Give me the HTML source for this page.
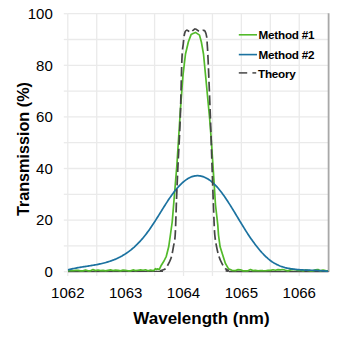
<!DOCTYPE html>
<html><head><meta charset="utf-8"><style>
html,body{margin:0;padding:0;background:#fff;width:342px;height:338px;overflow:hidden;}
svg{display:block;font-family:"Liberation Sans", sans-serif;}
</style></head><body>
<svg width="342" height="338" viewBox="0 0 342 338">
<rect width="342" height="338" fill="#fff"/>
<defs><filter id="sb" x="-5%" y="-5%" width="110%" height="110%"><feGaussianBlur stdDeviation="0.35"/></filter></defs>
<g filter="url(#sb)">
<line x1="67.80" y1="271.70" x2="328.60" y2="271.70" stroke="#EAEAEA" stroke-width="1.3"/>
<line x1="67.80" y1="245.90" x2="328.60" y2="245.90" stroke="#EAEAEA" stroke-width="1.3"/>
<line x1="67.80" y1="220.10" x2="328.60" y2="220.10" stroke="#EAEAEA" stroke-width="1.3"/>
<line x1="67.80" y1="194.30" x2="328.60" y2="194.30" stroke="#EAEAEA" stroke-width="1.3"/>
<line x1="67.80" y1="168.50" x2="328.60" y2="168.50" stroke="#EAEAEA" stroke-width="1.3"/>
<line x1="67.80" y1="142.70" x2="328.60" y2="142.70" stroke="#EAEAEA" stroke-width="1.3"/>
<line x1="67.80" y1="116.90" x2="328.60" y2="116.90" stroke="#EAEAEA" stroke-width="1.3"/>
<line x1="67.80" y1="91.10" x2="328.60" y2="91.10" stroke="#EAEAEA" stroke-width="1.3"/>
<line x1="67.80" y1="65.30" x2="328.60" y2="65.30" stroke="#EAEAEA" stroke-width="1.3"/>
<line x1="67.80" y1="39.50" x2="328.60" y2="39.50" stroke="#EAEAEA" stroke-width="1.3"/>
<line x1="67.80" y1="13.70" x2="328.60" y2="13.70" stroke="#EAEAEA" stroke-width="1.3"/>
<line x1="67.80" y1="13.7" x2="67.80" y2="271.7" stroke="#EAEAEA" stroke-width="1.3"/>
<line x1="96.73" y1="13.7" x2="96.73" y2="271.7" stroke="#EAEAEA" stroke-width="1.3"/>
<line x1="125.66" y1="13.7" x2="125.66" y2="271.7" stroke="#EAEAEA" stroke-width="1.3"/>
<line x1="154.59" y1="13.7" x2="154.59" y2="271.7" stroke="#EAEAEA" stroke-width="1.3"/>
<line x1="183.52" y1="13.7" x2="183.52" y2="271.7" stroke="#EAEAEA" stroke-width="1.3"/>
<line x1="212.45" y1="13.7" x2="212.45" y2="271.7" stroke="#EAEAEA" stroke-width="1.3"/>
<line x1="241.38" y1="13.7" x2="241.38" y2="271.7" stroke="#EAEAEA" stroke-width="1.3"/>
<line x1="270.31" y1="13.7" x2="270.31" y2="271.7" stroke="#EAEAEA" stroke-width="1.3"/>
<line x1="299.24" y1="13.7" x2="299.24" y2="271.7" stroke="#EAEAEA" stroke-width="1.3"/>
<line x1="63.8" y1="271.70" x2="67.80" y2="271.70" stroke="#EAEAEA" stroke-width="1.3"/>
<line x1="63.8" y1="245.90" x2="67.80" y2="245.90" stroke="#EAEAEA" stroke-width="1.3"/>
<line x1="63.8" y1="220.10" x2="67.80" y2="220.10" stroke="#EAEAEA" stroke-width="1.3"/>
<line x1="63.8" y1="194.30" x2="67.80" y2="194.30" stroke="#EAEAEA" stroke-width="1.3"/>
<line x1="63.8" y1="168.50" x2="67.80" y2="168.50" stroke="#EAEAEA" stroke-width="1.3"/>
<line x1="63.8" y1="142.70" x2="67.80" y2="142.70" stroke="#EAEAEA" stroke-width="1.3"/>
<line x1="63.8" y1="116.90" x2="67.80" y2="116.90" stroke="#EAEAEA" stroke-width="1.3"/>
<line x1="63.8" y1="91.10" x2="67.80" y2="91.10" stroke="#EAEAEA" stroke-width="1.3"/>
<line x1="63.8" y1="65.30" x2="67.80" y2="65.30" stroke="#EAEAEA" stroke-width="1.3"/>
<line x1="63.8" y1="39.50" x2="67.80" y2="39.50" stroke="#EAEAEA" stroke-width="1.3"/>
<line x1="63.8" y1="13.70" x2="67.80" y2="13.70" stroke="#EAEAEA" stroke-width="1.3"/>
<line x1="67.80" y1="271.7" x2="67.80" y2="276" stroke="#EAEAEA" stroke-width="1.3"/>
<line x1="96.73" y1="271.7" x2="96.73" y2="276" stroke="#EAEAEA" stroke-width="1.3"/>
<line x1="125.66" y1="271.7" x2="125.66" y2="276" stroke="#EAEAEA" stroke-width="1.3"/>
<line x1="154.59" y1="271.7" x2="154.59" y2="276" stroke="#EAEAEA" stroke-width="1.3"/>
<line x1="183.52" y1="271.7" x2="183.52" y2="276" stroke="#EAEAEA" stroke-width="1.3"/>
<line x1="212.45" y1="271.7" x2="212.45" y2="276" stroke="#EAEAEA" stroke-width="1.3"/>
<line x1="241.38" y1="271.7" x2="241.38" y2="276" stroke="#EAEAEA" stroke-width="1.3"/>
<line x1="270.31" y1="271.7" x2="270.31" y2="276" stroke="#EAEAEA" stroke-width="1.3"/>
<line x1="299.24" y1="271.7" x2="299.24" y2="276" stroke="#EAEAEA" stroke-width="1.3"/>
<line x1="328.60" y1="13.2" x2="328.60" y2="272" stroke="#A8A8A8" stroke-width="1.8"/>
<line x1="68" y1="271.6" x2="163" y2="271.4" stroke="#454545" stroke-width="1.3"/>
<line x1="229" y1="271.5" x2="328.5" y2="271.6" stroke="#454545" stroke-width="1.3"/>
<path d="M68.00,270.83 L70.50,270.51 L73.00,270.72 L75.50,270.43 L78.00,270.39 L80.50,270.89 L83.00,270.90 L85.50,269.99 L88.00,270.81 L90.50,270.83 L93.00,269.61 L95.50,270.61 L98.00,269.99 L100.50,270.61 L103.00,270.37 L105.50,270.87 L108.00,270.38 L110.50,269.92 L113.00,270.54 L115.50,270.19 L118.00,270.31 L120.50,270.89 L123.00,270.15 L125.50,270.45 L128.00,270.78 L130.50,270.90 L133.00,269.93 L135.50,270.61 L138.00,270.23 L140.50,269.90 L143.00,270.24 L145.50,269.80 L148.00,270.70 L150.50,270.07 L153.00,270.64 L154.50,270.00 L155.50,268.60 L156.80,269.50 L157.50,268.80 L158.00,269.00 L159.20,269.60 L161.00,265.80 L164.00,261.00 L166.30,256.30 L168.70,246.80 L170.40,235.00 L172.20,222.00 L176.90,165.00 L180.40,110.00 L183.00,75.00 L185.50,54.00 L188.40,41.70 L191.10,34.60 L193.00,33.60 L195.50,32.40 L199.50,35.10 L201.30,41.70 L203.50,54.00 L206.00,80.00 L209.60,118.00 L211.30,140.00 L212.60,160.00 L213.40,172.00 L215.50,205.00 L217.80,225.00 L218.50,235.00 L220.10,246.80 L223.10,256.30 L225.40,263.40 L228.40,268.70 L232.00,270.30 L235.50,270.60 L238.00,269.67 L240.50,269.82 L243.00,270.89 L245.50,270.87 L248.00,270.83 L250.50,269.59 L253.00,270.63 L255.50,270.35 L258.00,270.77 L260.50,270.54 L263.00,270.69 L265.50,270.73 L268.00,270.42 L270.50,270.42 L273.00,269.76 L275.50,270.25 L278.00,269.69 L280.50,269.87 L283.00,269.53 L285.50,270.27 L288.00,270.86 L290.50,269.86 L293.00,269.60 L295.50,269.75 L298.00,270.45 L300.50,270.19 L303.00,270.84 L305.50,269.93 L308.00,270.44 L310.50,270.79 L313.00,270.89 L315.50,269.88 L318.00,269.53 L320.50,270.89 L323.00,270.00 L325.50,270.66 L328.00,270.87" fill="none" stroke="#52BA2A" stroke-width="1.7" stroke-linejoin="round"/>
<path d="M68.00,269.87 L69.00,269.61 L70.00,269.36 L71.00,269.12 L72.00,268.90 L73.00,268.68 L74.00,268.47 L75.00,268.27 L76.00,268.07 L77.00,267.89 L78.00,267.71 L79.00,267.53 L80.00,267.36 L81.00,267.19 L82.00,267.03 L83.00,266.87 L84.00,266.71 L85.00,266.55 L86.00,266.40 L87.00,266.24 L88.00,266.09 L89.00,265.93 L90.00,265.77 L91.00,265.61 L92.00,265.44 L93.00,265.28 L94.00,265.10 L95.00,264.93 L96.00,264.74 L97.00,264.55 L98.00,264.36 L99.00,264.15 L100.00,263.94 L101.00,263.72 L102.00,263.49 L103.00,263.25 L104.00,263.00 L105.00,262.74 L106.00,262.46 L107.00,262.18 L108.00,261.88 L109.00,261.56 L110.00,261.23 L111.00,260.89 L112.00,260.53 L113.00,260.15 L114.00,259.76 L115.00,259.35 L116.00,258.92 L117.00,258.47 L118.00,258.00 L119.00,257.51 L120.00,257.00 L121.00,256.46 L122.00,255.91 L123.00,255.33 L124.00,254.73 L125.00,254.10 L126.00,253.45 L127.00,252.78 L128.00,252.07 L129.00,251.34 L130.00,250.58 L131.00,249.80 L132.00,248.98 L133.00,248.14 L134.00,247.27 L135.00,246.36 L136.00,245.42 L137.00,244.46 L138.00,243.45 L139.00,242.42 L140.00,241.35 L141.00,240.25 L142.00,239.11 L143.00,237.93 L144.00,236.72 L145.00,235.47 L146.00,234.19 L147.00,232.87 L148.00,231.52 L149.00,230.13 L150.00,228.71 L151.00,227.26 L152.00,225.78 L153.00,224.28 L154.00,222.75 L155.00,221.20 L156.00,219.63 L157.00,218.04 L158.00,216.45 L159.00,214.84 L160.00,213.23 L161.00,211.62 L162.00,210.01 L163.00,208.40 L164.00,206.81 L165.00,205.22 L166.00,203.66 L167.00,202.11 L168.00,200.58 L169.00,199.08 L170.00,197.62 L171.00,196.18 L172.00,194.78 L173.00,193.42 L174.00,192.10 L175.00,190.82 L176.00,189.59 L177.00,188.39 L178.00,187.25 L179.00,186.14 L180.00,185.09 L181.00,184.08 L182.00,183.13 L183.00,182.23 L184.00,181.38 L185.00,180.58 L186.00,179.84 L187.00,179.16 L188.00,178.53 L189.00,177.97 L190.00,177.46 L191.00,177.02 L192.00,176.64 L193.00,176.33 L194.00,176.08 L195.00,175.90 L196.00,175.78 L197.00,175.72 L198.00,175.72 L199.00,175.79 L200.00,175.92 L201.00,176.10 L202.00,176.35 L203.00,176.66 L204.00,177.03 L205.00,177.45 L206.00,177.93 L207.00,178.47 L208.00,179.07 L209.00,179.72 L210.00,180.43 L211.00,181.20 L212.00,182.02 L213.00,182.89 L214.00,183.81 L215.00,184.79 L216.00,185.82 L217.00,186.91 L218.00,188.04 L219.00,189.23 L220.00,190.46 L221.00,191.74 L222.00,193.07 L223.00,194.43 L224.00,195.83 L225.00,197.27 L226.00,198.75 L227.00,200.25 L228.00,201.78 L229.00,203.34 L230.00,204.92 L231.00,206.52 L232.00,208.13 L233.00,209.76 L234.00,211.41 L235.00,213.06 L236.00,214.72 L237.00,216.38 L238.00,218.05 L239.00,219.71 L240.00,221.37 L241.00,223.02 L242.00,224.67 L243.00,226.30 L244.00,227.92 L245.00,229.52 L246.00,231.10 L247.00,232.66 L248.00,234.20 L249.00,235.71 L250.00,237.19 L251.00,238.65 L252.00,240.08 L253.00,241.49 L254.00,242.86 L255.00,244.21 L256.00,245.52 L257.00,246.80 L258.00,248.06 L259.00,249.27 L260.00,250.46 L261.00,251.60 L262.00,252.72 L263.00,253.79 L264.00,254.83 L265.00,255.83 L266.00,256.79 L267.00,257.71 L268.00,258.59 L269.00,259.43 L270.00,260.23 L271.00,260.98 L272.00,261.69 L273.00,262.35 L274.00,262.98 L275.00,263.56 L276.00,264.11 L277.00,264.62 L278.00,265.09 L279.00,265.54 L280.00,265.95 L281.00,266.33 L282.00,266.68 L283.00,267.00 L284.00,267.30 L285.00,267.58 L286.00,267.83 L287.00,268.06 L288.00,268.27 L289.00,268.46 L290.00,268.64 L291.00,268.80 L292.00,268.95 L293.00,269.09 L294.00,269.21 L295.00,269.33 L296.00,269.43 L297.00,269.53 L298.00,269.61 L299.00,269.69 L300.00,269.76 L301.00,269.83 L302.00,269.88 L303.00,269.94 L304.00,269.98 L305.00,270.03 L306.00,270.06 L307.00,270.10 L308.00,270.13 L309.00,270.17 L310.00,270.20 L311.00,270.23 L312.00,270.26 L313.00,270.29 L314.00,270.33 L315.00,270.36 L316.00,270.40 L317.00,270.44 L318.00,270.49 L319.00,270.54 L320.00,270.60 L321.00,270.66 L322.00,270.73 L323.00,270.81 L324.00,270.89 L325.00,270.99 L326.00,271.09 L327.00,271.10 L328.00,271.10" fill="none" stroke="#1B72A0" stroke-width="1.7" stroke-linejoin="round"/>
<defs><clipPath id="pk"><rect x="160" y="0" width="69" height="280"/></clipPath></defs>
<path clip-path="url(#pk)" d="M195.10,28.60 C194.42,29.13 191.92,31.23 191.00,31.80 C190.08,32.37 190.07,32.17 189.60,32.00 C189.13,31.83 188.70,31.10 188.20,30.80 C187.70,30.50 187.10,30.07 186.60,30.20 C186.10,30.33 185.62,30.63 185.20,31.60 C184.78,32.57 184.42,33.98 184.10,36.00 C183.78,38.02 183.67,39.70 183.30,43.70 C182.93,47.70 182.42,47.28 181.90,60.00 C181.38,72.72 180.85,102.50 180.20,120.00 C179.55,137.50 178.62,151.67 178.00,165.00 C177.38,178.33 176.97,188.33 176.50,200.00 C176.03,211.67 175.72,227.20 175.20,235.00 C174.68,242.80 174.00,243.25 173.40,246.80 C172.80,250.35 172.18,253.93 171.60,256.30 C171.02,258.67 170.67,259.30 169.90,261.00 C169.13,262.70 167.70,265.22 167.00,266.50 C166.30,267.78 166.53,268.07 165.70,268.70 C164.87,269.33 163.28,269.90 162.00,270.30 C160.72,270.70 160.00,270.93 158.00,271.10 C156.00,271.27 165.00,271.27 150.00,271.30 C135.00,271.33 81.67,271.30 68.00,271.30" fill="none" stroke="#454545" stroke-width="1.7" stroke-dasharray="9.78 3.80" stroke-dashoffset="6.30" stroke-linejoin="round"/>
<path clip-path="url(#pk)" d="M195.10,28.60 C195.75,29.05 198.02,30.83 199.00,31.30 C199.98,31.77 200.28,31.57 201.00,31.40 C201.72,31.23 202.63,30.33 203.30,30.30 C203.97,30.27 204.45,30.18 205.00,31.20 C205.55,32.22 206.23,34.32 206.60,36.40 C206.97,38.48 206.95,39.77 207.20,43.70 C207.45,47.63 207.58,48.12 208.10,60.00 C208.62,71.88 209.65,97.50 210.30,115.00 C210.95,132.50 211.42,148.33 212.00,165.00 C212.58,181.67 213.33,203.33 213.80,215.00 C214.27,226.67 214.33,229.70 214.80,235.00 C215.27,240.30 215.92,243.25 216.60,246.80 C217.28,250.35 218.02,253.53 218.90,256.30 C219.78,259.07 220.82,261.33 221.90,263.40 C222.98,265.47 224.22,267.50 225.40,268.70 C226.58,269.90 227.40,270.17 229.00,270.60 C230.60,271.03 218.42,271.18 235.00,271.30 C251.58,271.42 312.92,271.30 328.50,271.30" fill="none" stroke="#454545" stroke-width="1.7" stroke-dasharray="9.67 3.80" stroke-dashoffset="4.96" stroke-linejoin="round"/>
<line x1="238.8" y1="34.8" x2="257" y2="34.8" stroke="#52BA2A" stroke-width="1.6"/>
<line x1="238.8" y1="54.6" x2="257" y2="54.6" stroke="#1B72A0" stroke-width="1.6"/>
<line x1="238.8" y1="72.9" x2="247.2" y2="72.9" stroke="#454545" stroke-width="1.5"/>
<line x1="252.4" y1="72.9" x2="256.2" y2="72.9" stroke="#454545" stroke-width="1.5"/>
</g>
<g font-family="Liberation Sans, sans-serif" font-weight="bold" font-size="11.7" letter-spacing="-0.22" fill="#000">
<text x="258.5" y="39.3">Method #1</text>
<text x="258.5" y="58.8">Method #2</text>
<text x="258" y="77.8">Theory</text>
</g>
<g font-family="Liberation Sans, sans-serif" font-size="15" fill="#000">
<text x="52.8" y="277.00" text-anchor="end">0</text>
<text x="52.8" y="225.40" text-anchor="end">20</text>
<text x="52.8" y="173.80" text-anchor="end">40</text>
<text x="52.8" y="122.20" text-anchor="end">60</text>
<text x="52.8" y="70.60" text-anchor="end">80</text>
<text x="52.8" y="19.00" text-anchor="end">100</text>
<text x="67.80" y="298.2" text-anchor="middle">1062</text>
<text x="125.66" y="298.2" text-anchor="middle">1063</text>
<text x="183.52" y="298.2" text-anchor="middle">1064</text>
<text x="241.38" y="298.2" text-anchor="middle">1065</text>
<text x="299.24" y="298.2" text-anchor="middle">1066</text>
</g>
<text x="201.5" y="323.7" text-anchor="middle" font-family="Liberation Sans, sans-serif" font-weight="bold" font-size="17">Wavelength (nm)</text>
<text transform="translate(28.5,149.1) rotate(-90)" text-anchor="middle" font-family="Liberation Sans, sans-serif" font-weight="bold" font-size="16.2">Transmission (%)</text>
</svg>
</body></html>
